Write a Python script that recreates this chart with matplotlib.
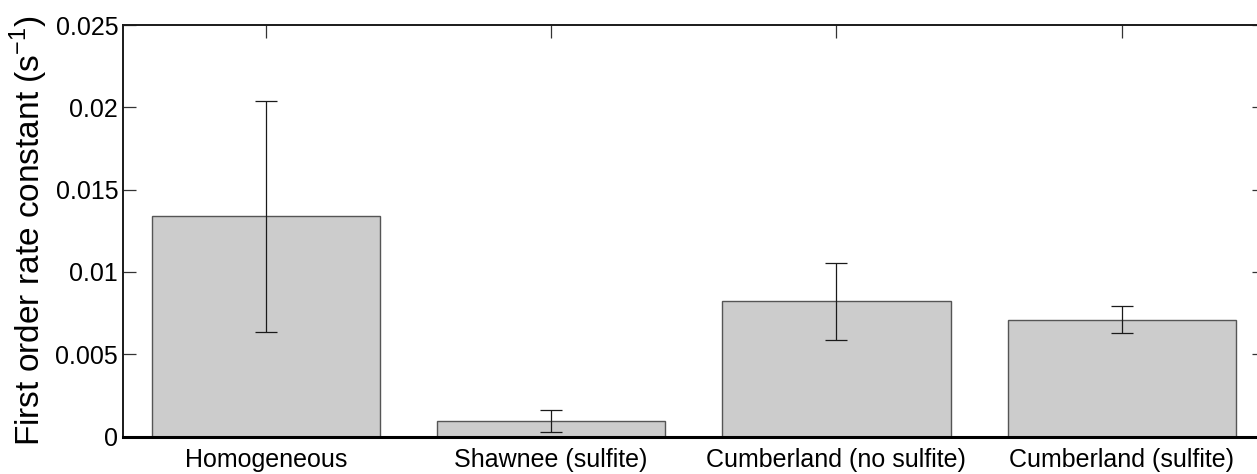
import matplotlib
matplotlib.use("Agg")
import matplotlib.pyplot as plt
import numpy as np

# Rate constants per system and their error (+/-)
sites = ['Homogeneous', 'Shawnee (sulfite)', 'Cumberland (no sulfite)', 'Cumberland (sulfite)']
k_rate = [0.01337, 0.00094, 0.00822, 0.00709]
k_err = [0.00703, 0.00067, 0.00234, 0.00081]
y_ticks = [0, 0.005, 0.01, 0.015, 0.02, 0.025]
y_ticklabels = ['0', '0.005', '0.01', '0.015', '0.02', '0.025']

plt.rcParams['font.family'] = ['Liberation Sans', 'DejaVu Sans']
plt.rcParams['mathtext.fontset'] = 'custom'
plt.rcParams['mathtext.rm'] = 'Liberation Sans'

fig = plt.figure(figsize=(12.57, 4.74), dpi=100)
ax = fig.add_axes([0.0979, 0.0791, 0.908, 0.868])

pos = np.arange(1, len(sites) + 1)
ax.set_axisbelow(True)
ax.bar(pos, k_rate, width=0.8, color='#cccccc', edgecolor='#555555', linewidth=1.0, zorder=1)
ax.errorbar(pos, k_rate, yerr=k_err, fmt='none', ecolor='#1a1a1a', elinewidth=0.9,
            capsize=8, capthick=0.9, zorder=3)

ax.set_xlim(0.5, 4.5)
ax.set_ylim(0, 0.025)
ax.set_xticks(pos)
ax.set_xticklabels(sites, fontsize=18)
ax.set_yticks(y_ticks)
ax.set_yticklabels(y_ticklabels, fontsize=18)

ax.tick_params(axis='both', direction='in', length=9, width=0.9, color='#333333',
               top=True, right=True)
ax.tick_params(axis='x', pad=8)
ax.tick_params(axis='y', pad=3.5)

for side in ['top', 'left', 'right']:
    ax.spines[side].set_linewidth(1.4)
    ax.spines[side].set_color('#1a1a1a')
ax.spines['bottom'].set_linewidth(2.2)
ax.spines['bottom'].set_color('black')

ax.set_ylabel(r'First order rate constant (s$^{\mathregular{-1}}$)', fontsize=24, labelpad=4)

fig.savefig('out.png', dpi=100, facecolor='white')
